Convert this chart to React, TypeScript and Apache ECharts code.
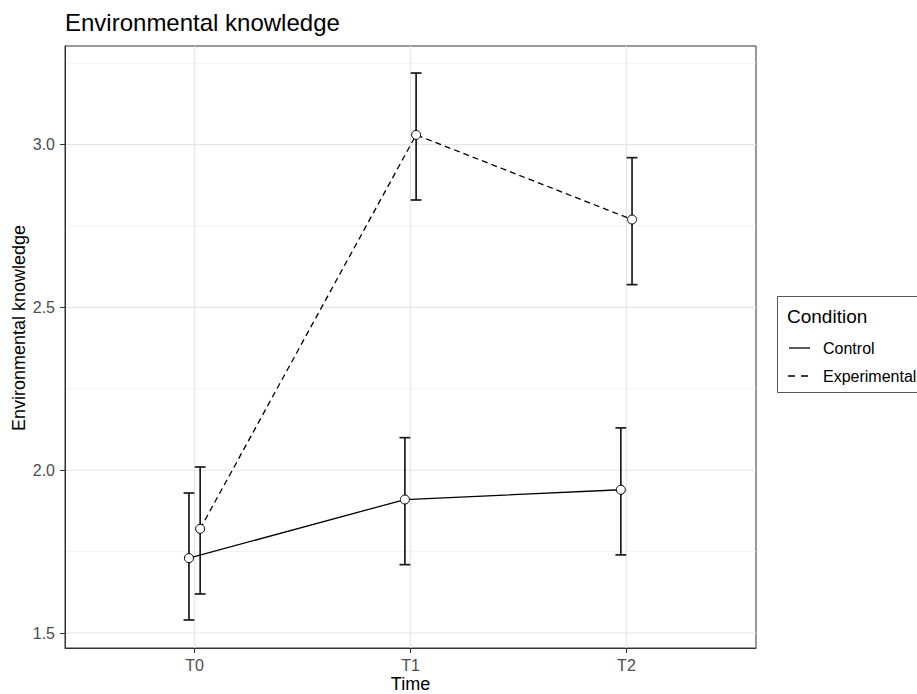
import React, { useEffect, useRef } from "react";
import * as echarts from "echarts";

const categories = ["T0", "T1", "T2"];
const controlMean = [1.73, 1.91, 1.94];
const controlLower = [1.54, 1.71, 1.74];
const controlUpper = [1.93, 2.1, 2.13];
const expMean = [1.82, 3.03, 2.77];
const expLower = [1.62, 2.83, 2.57];
const expUpper = [2.01, 3.22, 2.96];
const yTicks = [1.5, 2.0, 2.5, 3.0];
const yMinorTicks = [1.75, 2.25, 2.75, 3.25];
const xTicks = [0, 1, 2];
const seriesNames = ["Control", "Experimental"];
const legendTitle = "Condition";

const DODGE = 0.026;
const CAP = 0.05;
const FONT = "'Liberation Sans', Arial, Helvetica, sans-serif";

export default function App() {
  const ref = useRef<HTMLDivElement>(null);
  useEffect(() => {
    if (!ref.current) return;
    const chart = echarts.init(ref.current, null, { renderer: "svg" });
    const cx = categories.map((_, i) => i - DODGE);
    const ex = categories.map((_, i) => i + DODGE);
    const gridData: any[] = [
      ...yMinorTicks.map((v) => ({ value: [0, v], dir: "h", major: false })),
      ...yTicks.map((v) => ({ value: [0, v], dir: "h", major: true })),
      ...xTicks.map((v) => ({ value: [v, 2], dir: "v", major: true })),
    ];
    const errData = [
      ...categories.map((_, i) => [cx[i], controlLower[i], controlUpper[i]]),
      ...categories.map((_, i) => [ex[i], expLower[i], expUpper[i]]),
    ];
    const option: any = {
      animation: false,
      backgroundColor: "#ffffff",
      textStyle: { fontFamily: FONT },
      grid: {
        left: 65,
        right: 161,
        top: 46,
        bottom: 46,
        containLabel: false,
        outerBoundsMode: "none",
        show: true,
        borderColor: "#333333",
        borderWidth: 1,
        backgroundColor: "#ffffff",
      },
      xAxis: {
        type: "value",
        min: -0.6,
        max: 2.6,
        name: "Time",
        nameLocation: "middle",
        nameGap: 27,
        nameMoveOverlap: false,
        nameTextStyle: { color: "#000", fontSize: 18, lineHeight: 18, fontFamily: FONT },
        axisLine: { show: true, onZero: false, lineStyle: { color: "#333333", width: 1 } },
        axisTick: { show: true, customValues: xTicks, length: 5, lineStyle: { color: "#333333", width: 1 } },
        axisLabel: {
          customValues: xTicks,
          formatter: (v: number) => categories[Math.round(v)] ?? "",
          color: "#4d4d4d",
          fontSize: 16,
          margin: 9,
          fontFamily: FONT,
        },
        splitLine: { show: false },
      },
      yAxis: {
        type: "value",
        min: 1.454,
        max: 3.303,
        axisLine: { show: true, onZero: false, lineStyle: { color: "#333333", width: 1 } },
        axisTick: { show: true, customValues: yTicks, length: 5, lineStyle: { color: "#333333", width: 1 } },
        axisLabel: {
          customValues: yTicks,
          formatter: (v: number) => v.toFixed(1),
          color: "#4d4d4d",
          fontSize: 16,
          margin: 10,
          fontFamily: FONT,
        },
        splitLine: { show: false },
      },
      series: [
        {
          type: "custom",
          name: "gridlines",
          silent: true,
          z: 0,
          data: gridData,
          renderItem: (params: any, api: any) => {
            const cs = params.coordSys;
            const d = gridData[params.dataIndex];
            const p = api.coord(d.value);
            const style = { stroke: d.major ? "#e6e6e6" : "#efefef", lineWidth: d.major ? 1.2 : 0.8 };
            if (d.dir === "h") {
              return { type: "line", shape: { x1: cs.x, y1: p[1], x2: cs.x + cs.width, y2: p[1] }, style };
            }
            return { type: "line", shape: { x1: p[0], y1: cs.y, x2: p[0], y2: cs.y + cs.height }, style };
          },
        },
        {
          type: "custom",
          name: "errorbars",
          silent: true,
          z: 2,
          encode: { x: 0, y: [1, 2] },
          data: errData,
          renderItem: (params: any, api: any) => {
            const x = api.value(0);
            const lo = api.coord([x, api.value(1)]);
            const hi = api.coord([x, api.value(2)]);
            const half = api.size([CAP / 2, 0])[0];
            const style = { stroke: "#1a1a1a", lineWidth: 1.7 };
            return {
              type: "group",
              children: [
                { type: "line", shape: { x1: lo[0], y1: lo[1], x2: hi[0], y2: hi[1] }, style },
                { type: "line", shape: { x1: hi[0] - half, y1: hi[1], x2: hi[0] + half, y2: hi[1] }, style },
                { type: "line", shape: { x1: lo[0] - half, y1: lo[1], x2: lo[0] + half, y2: lo[1] }, style },
              ],
            };
          },
        },
        {
          type: "line",
          name: seriesNames[0],
          z: 3,
          data: categories.map((_, i) => [cx[i], controlMean[i]]),
          symbol: "circle",
          symbolSize: 9,
          showSymbol: true,
          lineStyle: { color: "#000000", width: 1.3, type: "solid" },
          itemStyle: { color: "#ffffff", borderColor: "#000000", borderWidth: 1 },
          emphasis: { disabled: true },
        },
        {
          type: "line",
          name: seriesNames[1],
          z: 3,
          data: categories.map((_, i) => [ex[i], expMean[i]]),
          symbol: "circle",
          symbolSize: 9,
          showSymbol: true,
          lineStyle: { color: "#000000", width: 1.3, type: [6, 4] },
          itemStyle: { color: "#ffffff", borderColor: "#000000", borderWidth: 1 },
          emphasis: { disabled: true },
        },
      ],
      graphic: [
        {
          type: "text",
          left: 65,
          top: 10,
          style: { text: "Environmental knowledge", fontSize: 24, fill: "#000", fontFamily: FONT },
        },
        {
          type: "text",
          x: 18.5,
          y: 328,
          rotation: Math.PI / 2,
          style: {
            text: "Environmental knowledge",
            fontSize: 18,
            fill: "#000",
            fontFamily: FONT,
            align: "center",
            verticalAlign: "middle",
          },
        },
        {
          type: "rect",
          shape: { x: 777.5, y: 296.5, width: 170, height: 96 },
          style: { fill: "#ffffff", stroke: "#555555", lineWidth: 1 },
        },
        {
          type: "text",
          x: 787,
          y: 316,
          style: { text: legendTitle, fontSize: 19, fill: "#000", fontFamily: FONT, verticalAlign: "middle" },
        },
        {
          type: "line",
          shape: { x1: 789, y1: 348, x2: 810, y2: 348 },
          style: { stroke: "#000", lineWidth: 1.3 },
        },
        {
          type: "line",
          shape: { x1: 788, y1: 376, x2: 810, y2: 376 },
          style: { stroke: "#000", lineWidth: 1.3, lineDash: [7, 6] },
        },
        {
          type: "text",
          x: 823,
          y: 348,
          style: { text: seriesNames[0], fontSize: 16, fill: "#000", fontFamily: FONT, verticalAlign: "middle" },
        },
        {
          type: "text",
          x: 823,
          y: 376,
          style: { text: seriesNames[1], fontSize: 16, fill: "#000", fontFamily: FONT, verticalAlign: "middle" },
        },
      ],
    };
    chart.setOption(option);
    return () => chart.dispose();
  }, []);
  return <div ref={ref} style={{ position: "absolute", left: 0, top: 0, width: 917, height: 694 }} />;
}
